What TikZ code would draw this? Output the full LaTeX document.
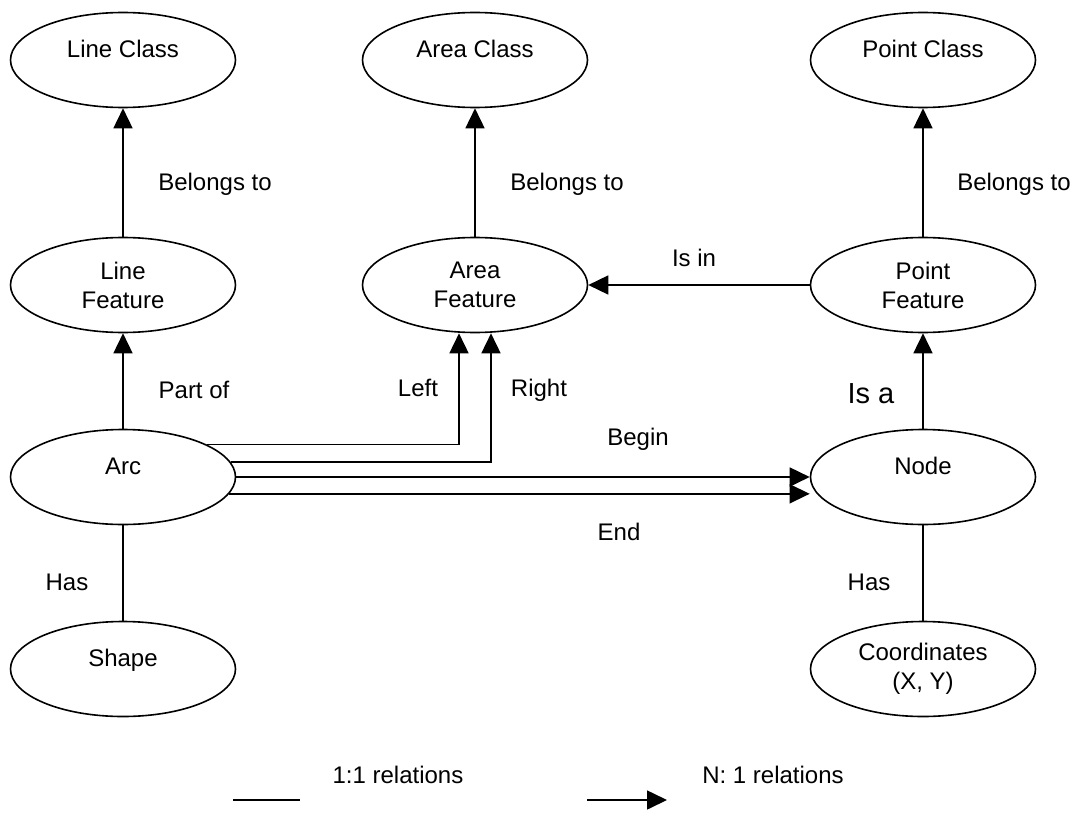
\documentclass[tikz,border=0pt]{standalone}
\usepackage{fontspec}
\setmainfont{Liberation Sans}
\usetikzlibrary{shapes,arrows.meta,positioning,calc}

\begin{document}
\begin{tikzpicture}[x=1pt, y=-1pt, node distance=225pt, >={Triangle[length=20pt,width=19pt]}, font=\fontsize{24}{29}\selectfont]
        % Styles
        \tikzstyle{entity} = [ellipse, draw, line width=1.6pt, minimum width=225pt, minimum height=95pt, inner sep=0pt, align=center]
        \tikzstyle{oneline} = [text height=17pt, text depth=22pt]
        \tikzstyle{nto1} = [draw, ->, line width=1.6pt]
        \tikzstyle{onetoone} = [draw, line width=1.6pt]
        \tikzstyle{rlabel} = [inner sep=0pt, text height=17pt, text depth=0pt]

        \useasboundingbox (0,0) rectangle (1075,821);

        % Entities
        \node [entity, oneline] (lineclass) at (123,60) {Line Class};
        \node [entity, oneline, right of=lineclass, node distance=352pt] (areaclass) {Area Class};
        \node [entity, oneline, right of=areaclass, node distance=448pt] (pointclass) {Point Class};
        \node [entity, below of=lineclass] (linefeat) {Line\\Feature};
        \node [entity, below of=areaclass] (areafeat) {Area\\Feature};
        \node [entity, below of=pointclass] (pointfeat) {Point\\Feature};
        \node [entity, oneline, below of=linefeat, node distance=192pt] (arc) {Arc};
        \node [entity, oneline, below of=pointfeat, node distance=192pt] (gnode) {Node};
        \node [entity, oneline, below of=arc, node distance=192pt] (shape) {Shape};
        \node [entity, below of=gnode, node distance=192pt] (coords) {Coordinates\\(X, Y)};

        % Relations
        \path [nto1] (linefeat) -- (lineclass);
        \path [nto1] (areafeat) -- (areaclass);
        \path [nto1] (pointfeat) -- (pointclass);
        \path [nto1] (pointfeat) -- (areafeat);
        \path [nto1] (arc) -- (linefeat);
        \path [nto1] (gnode) -- (pointfeat);
        \path [onetoone] (arc) -- (shape);
        \path [onetoone] (gnode) -- (coords);
        \path [nto1] (arc.21) -| ([xshift=-16pt]areafeat.south);
        \path [nto1] (arc.8.6) -| ([xshift=16pt]areafeat.south);
        \path [nto1] (arc.east) -- (gnode.west);
        \path [nto1] (arc.351.4) -- (gnode.west |- arc.351.4);

        % Relation names
        \node [rlabel] (belongsl) at (215,182) {Belongs to};
        \node [rlabel] (belongsa) at (567,182) {Belongs to};
        \node [rlabel] (belongsp) at (1014,182) {Belongs to};
        \node [rlabel] (isin) at (694,258) {Is in};
        \node [rlabel] (partof) at (194,390) {Part of};
        \node [rlabel] (leftname) at (418,388) {Left};
        \node [rlabel] (rightname) at (539,388) {Right};
        \node [rlabel] (beginname) at (638,437) {Begin};
        \node [rlabel] (endname) at (619,532) {End};
        \node [rlabel, font=\fontsize{29}{35}\selectfont, text height=21pt] (isa) at (871,393) {Is a};
        \node [rlabel] (hasshape) at (67,582) {Has};
        \node [rlabel] (hascoords) at (869,582) {Has};

        % Key
        \coordinate (keyonea) at (233,800);
        \coordinate (keyoneb) at (300,800);
        \coordinate (keyntoa) at (587,800);
        \coordinate (keyntob) at (667,800);
        \path [onetoone] (keyonea) -- (keyoneb);
        \path [nto1] (keyntoa) -- (keyntob);
        \node [rlabel] (keyone) at (398,775) {1:1 relations};
        \node [rlabel] (keynto) at (773,775) {N: 1 relations};
    \end{tikzpicture}
\end{document}
